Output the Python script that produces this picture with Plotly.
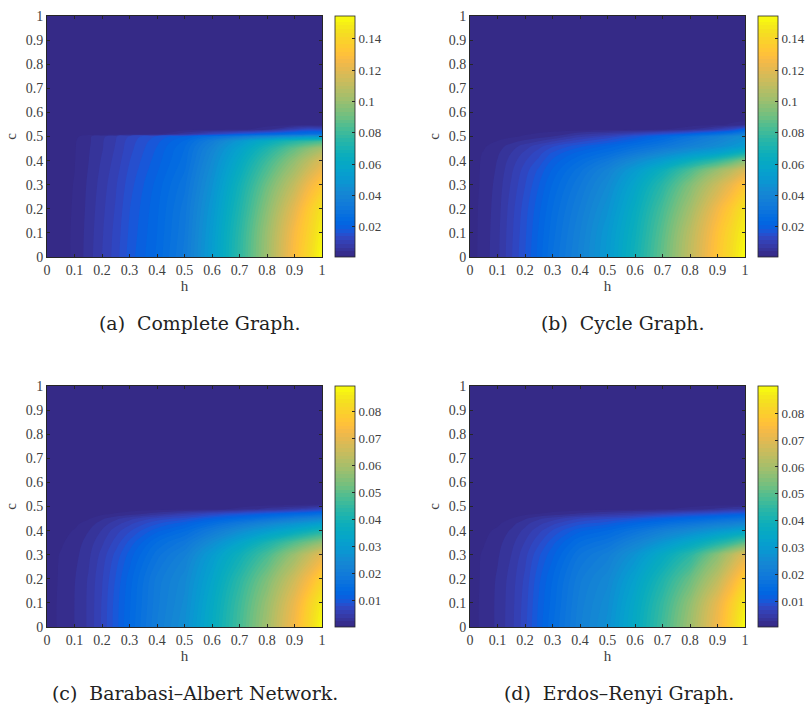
import numpy as np
import plotly.graph_objects as go

# Shared axis tick labels
tick_vals = [0, .1, .2, .3, .4, .5, .6, .7, .8, .9, 1]
tick_text = ["0", "0.1", "0.2", "0.3", "0.4", "0.5", "0.6", "0.7", "0.8", "0.9", "1"]

h_grid = [0, .05, .1, .15, .2, .25, .3, .4, .5, .6, .7, .8, .9, .95, 1]

c_a = [0, .1, .2, .3, .4, .45, .48, .5, .51, .53, .55, .6, 1]
z_a = [
    [.7, 1.2, 2.2, 5.5, 9.1, 12.7, 17.4, 24, 34, 53, 76, 101, 129, 141, 154.5],
    [.7, 1.2, 2.2, 5.3, 8.8, 12.4, 16.8, 23.5, 33, 52, 75, 100, 127, 138, 151],
    [.7, 1.2, 2.1, 5.0, 8.4, 11.8, 16.2, 23, 32, 50, 72, 96, 121, 134, 146],
    [.7, 1.1, 2.0, 4.7, 7.8, 11.2, 15.2, 22, 30, 47, 68, 90, 111, 124, 134],
    [.7, 1.0, 1.8, 4.2, 7.0, 10, 13.8, 20, 27, 43, 61, 80, 98, 108, 118],
    [.7, 1.0, 1.7, 4.0, 6.5, 9.4, 13, 19, 26, 40, 56, 72, 88, 96, 103],
    [.7, 1.0, 1.6, 3.8, 6.4, 9.1, 12.6, 18, 24, 36, 50, 63, 74, 78, 82],
    [.7, .8, 1.0, 3.8, 6, 8.8, 12, 17, 21, 28, 34, 40, 45, 48, 50],
    [.7, .7, .7, .7, .7, .7, .7, 1.2, 6, 12, 18, 22, 26, 28, 30],
    [.7, .7, .7, .7, .7, .7, .7, .7, .7, .7, 1.0, 3.5, 10, 13, 12],
    [.7, .7, .7, .7, .7, .7, .7, .7, .7, .7, .7, .7, .7, .7, .7],
    [.7, .7, .7, .7, .7, .7, .7, .7, .7, .7, .7, .7, .7, .7, .7],
    [.7, .7, .7, .7, .7, .7, .7, .7, .7, .7, .7, .7, .7, .7, .7],
]

c_b = [0, .1, .2, .3, .36, .4, .43, .46, .5, .53, .55, .58, .6, 1]
z_b = [
    [.7, 3.0, 6, 11.2, 16.3, 22, 28.4, 39, 51, 68, 88, 110, 133, 143, 154.5],
    [.7, 2.9, 5.9, 10.9, 15.8, 21.5, 27.3, 38, 50, 66, 86, 108, 131, 141, 151],
    [.7, 2.8, 5.6, 10.4, 15.2, 20.4, 26, 36, 47, 63, 82, 102, 125, 135, 146],
    [.7, 2.5, 5.2, 9.4, 13.8, 18.6, 23.8, 33, 43, 58, 75, 94, 113, 123, 133],
    [.7, 2.4, 4.7, 8.6, 12.7, 16.9, 21.5, 30, 39, 52, 66, 83, 100, 108, 118],
    [.7, 2.3, 4.4, 7.7, 11.2, 14.6, 19.2, 26, 33, 43, 53, 65, 77, 85, 95],
    [.7, 2.1, 3.9, 6.8, 9.8, 12.9, 16.9, 22.5, 27, 34, 42, 50, 57, 63, 70],
    [.7, 1.6, 3.1, 5.4, 7.9, 10.6, 13.5, 18, 22, 27, 32, 38, 44, 48, 52],
    [.7, .7, 1.0, 1.5, 2.2, 3.1, 4.3, 8.5, 12, 17, 23, 30, 37, 41, 45],
    [.7, .7, .7, .7, .7, .7, .7, .7, .7, .9, 1.7, 3.7, 8.7, 12.7, 20.7],
    [.7, .7, .7, .7, .7, .7, .7, .7, .7, .7, .7, .7, 1.4, 2.2, 2.7],
    [.7, .7, .7, .7, .7, .7, .7, .7, .7, .7, .7, .7, .7, .7, 1.0],
    [.7, .7, .7, .7, .7, .7, .7, .7, .7, .7, .7, .7, .7, .7, .7],
    [.7, .7, .7, .7, .7, .7, .7, .7, .7, .7, .7, .7, .7, .7, .7],
]

c_c = [0, .1, .2, .3, .35, .4, .43, .45, .47, .49, .51, .53, 1]
z_c = [
    [.2, 1.2, 2.3, 3.9, 6.7, 10, 13.5, 20.5, 26, 36, 47, 59, 73, 81, 89.4],
    [.2, 1.2, 2.3, 3.9, 6.6, 9.9, 13.2, 20, 25, 35, 46, 57.5, 71, 79, 86.5],
    [.2, 1.1, 2.2, 3.8, 6.3, 9.4, 12.7, 19.5, 24, 33, 43.5, 54, 66, 73, 80],
    [.2, 1.0, 1.8, 3.3, 5.6, 8.3, 11.2, 17, 21.5, 30, 38.5, 47.5, 58, 64, 70],
    [.2, .7, 1.5, 2.9, 4.8, 7.1, 9.7, 15, 18.5, 25.5, 33, 41, 49, 53, 57],
    [.2, .4, 1.0, 2.2, 3.8, 5.8, 7.6, 11.5, 14.5, 19.5, 25, 30, 35, 38, 41],
    [.2, .2, .5, 1.5, 2.9, 4.4, 6, 9, 11.5, 15, 19, 23, 27, 29, 31],
    [.2, .2, .3, .7, 2, 3.3, 4.5, 7, 8.5, 11.5, 14, 17, 20, 21.5, 23],
    [.2, .2, .2, .2, .5, 1.0, 1.5, 3, 5, 7, 9, 11, 13, 14, 15],
    [.2, .2, .2, .2, .2, .2, .2, .25, .3, .5, 1.2, 2.7, 4.2, 5.2, 6.7],
    [.2, .2, .2, .2, .2, .2, .2, .2, .2, .2, .2, .2, .2, .4, .7],
    [.2, .2, .2, .2, .2, .2, .2, .2, .2, .2, .2, .2, .2, .2, .2],
    [.2, .2, .2, .2, .2, .2, .2, .2, .2, .2, .2, .2, .2, .2, .2],
]

c_d = [0, .1, .2, .3, .35, .4, .43, .45, .47, .49, .51, 1]
z_d = [
    [.5, 1.6, 2.9, 4.9, 7.7, 11.5, 15, 22, 27, 36, 47, 59, 73, 81, 90.1],
    [.5, 1.6, 2.9, 4.8, 7.5, 11.2, 14.4, 21.5, 26, 35, 45.5, 57, 71, 79, 87],
    [.5, 1.5, 2.8, 4.6, 7.1, 10.6, 13.8, 20.5, 24.5, 32.5, 42, 52, 64, 72, 80],
    [.5, 1.4, 2.4, 4, 6.3, 9.3, 12, 18, 21.5, 28, 36, 44, 56, 63, 70],
    [.5, 1.1, 2.1, 3.5, 5.5, 7.9, 10.5, 15.5, 18, 23, 29, 35, 42, 46, 51],
    [.5, .8, 1.5, 2.8, 4.4, 6.3, 8.3, 12, 14, 17.5, 21.5, 25, 29, 31, 33],
    [.5, .6, .9, 2, 3.5, 4.9, 6.3, 9, 10.5, 13, 15.5, 18, 21, 22, 24],
    [.5, .5, .7, 1.2, 2.4, 3.7, 4.7, 6.8, 8, 9.5, 11.5, 13.5, 15.5, 16.5, 17.5],
    [.5, .5, .5, .5, .8, 1.2, 1.6, 2.8, 4, 5, 6.5, 8, 9.5, 10.5, 11.5],
    [.5, .5, .5, .5, .5, .5, .5, .5, .55, .7, 1, 1.7, 3, 3.7, 4.5],
    [.5, .5, .5, .5, .5, .5, .5, .5, .5, .5, .5, .5, .5, .5, .5],
    [.5, .5, .5, .5, .5, .5, .5, .5, .5, .5, .5, .5, .5, .5, .5],
]

cbar_vals_top = [.02, .04, .06, .08, .1, .12, .14]
cbar_text_top = ["0.02", "0.04", "0.06", "0.08", "0.1", "0.12", "0.14"]
cbar_vals_bottom = [.01, .02, .03, .04, .05, .06, .07, .08]
cbar_text_bottom = ["0.01", "0.02", "0.03", "0.04", "0.05", "0.06", "0.07", "0.08"]

captions = ["(a)  Complete Graph.", "(b)  Cycle Graph.",
            "(c)  Barabasi–Albert Network.", "(d)  Erdos–Renyi Graph."]
caption_cx = [200, 622, 195, 619]
caption_cy = [323, 323, 693, 693]

parula = [
 (.2081,.1663,.5292),(.2116,.1898,.5777),(.2123,.2138,.6270),(.2081,.2386,.6771),
 (.1959,.2645,.7279),(.1707,.2919,.7792),(.1253,.3242,.8303),(.0591,.3598,.8683),
 (.0117,.3875,.8820),(.0060,.4086,.8828),(.0165,.4266,.8786),(.0329,.4430,.8720),
 (.0498,.4586,.8641),(.0629,.4737,.8554),(.0723,.4887,.8467),(.0779,.5040,.8384),
 (.0793,.5200,.8312),(.0749,.5375,.8263),(.0641,.5570,.8240),(.0488,.5772,.8228),
 (.0343,.5966,.8199),(.0265,.6137,.8135),(.0239,.6287,.8038),(.0231,.6418,.7913),
 (.0228,.6535,.7768),(.0267,.6642,.7607),(.0384,.6743,.7436),(.0590,.6838,.7254),
 (.0843,.6928,.7062),(.1133,.7015,.6859),(.1453,.7098,.6646),(.1801,.7177,.6424),
 (.2178,.7250,.6193),(.2586,.7317,.5954),(.3022,.7376,.5712),(.3482,.7424,.5473),
 (.3953,.7459,.5244),(.4420,.7481,.5033),(.4871,.7491,.4840),(.5300,.7491,.4661),
 (.5709,.7485,.4494),(.6099,.7473,.4337),(.6473,.7456,.4188),(.6834,.7435,.4044),
 (.7184,.7411,.3905),(.7525,.7384,.3768),(.7858,.7356,.3633),(.8185,.7327,.3498),
 (.8507,.7299,.3360),(.8824,.7274,.3217),(.9139,.7258,.3063),(.9450,.7261,.2886),
 (.9739,.7314,.2666),(.9938,.7455,.2403),(.9990,.7653,.2164),(.9955,.7861,.1967),
 (.9880,.8066,.1794),(.9789,.8271,.1633),(.9697,.8481,.1475),(.9626,.8705,.1309),
 (.9589,.8949,.1132),(.9598,.9218,.0948),(.9661,.9514,.0755),(.9763,.9831,.0538),
]
def rgb(t):
    return "rgb(%d,%d,%d)" % tuple(round(v * 255) for v in t)
colorscale = [[i / 63, rgb(p)] for i, p in enumerate(parula)]

W, H = 807, 704
FONT = "Liberation Serif"
INK = "#404040"
panels = [
    (47, 322, 16, 257, 334.5, c_a, z_a, .0007, .1545, cbar_vals_top, cbar_text_top),
    (470, 745, 16, 257, 757.7, c_b, z_b, .0007, .1545, cbar_vals_top, cbar_text_top),
    (47, 322, 386, 627, 334.5, c_c, z_c, .0002, .0894, cbar_vals_bottom, cbar_text_bottom),
    (470, 745, 386, 627, 757.7, c_d, z_d, .0005, .0901, cbar_vals_bottom, cbar_text_bottom),
]

fig = go.Figure()
layout = dict(
    width=W, height=H, margin=dict(l=0, r=0, t=0, b=0, autoexpand=False), autosize=False,
    paper_bgcolor="white", plot_bgcolor="#352a87", showlegend=False,
    font=dict(family=FONT, size=13, color=INK),
)
annotations = []
for i, (x0, x1, yt, yb, cx, cs, z, zmin, zmax, cv, ct) in enumerate(panels):
    sfx = "" if i == 0 else str(i + 1)
    step = (zmax - zmin) / 64
    fig.add_trace(go.Contour(
        x=h_grid, y=cs, z=np.array(z) / 1000, xaxis="x" + sfx, yaxis="y" + sfx,
        zmin=zmin, zmax=zmax, colorscale=colorscale, autocontour=False,
        contours=dict(start=zmin + step / 2, end=zmax, size=step, coloring="fill", showlines=False),
        line=dict(width=0), hoverinfo="skip",
        colorbar=dict(
            x=cx / W, xanchor="left", thickness=20, thicknessmode="pixels",
            y=1 - (yt + yb) / 2 / H, yanchor="middle", len=(yb - yt) / H, lenmode="fraction",
            xpad=0, ypad=0, outlinecolor="#262626", outlinewidth=0.8,
            tickmode="array", tickvals=cv, ticktext=ct, ticks="inside", ticklen=3,
            tickwidth=0.7, tickcolor="#262626",
            tickfont=dict(family=FONT, size=13, color=INK),
        ),
    ))
    common = dict(
        range=[0, 1], tickmode="array", tickvals=tick_vals, ticktext=tick_text,
        ticks="inside", ticklen=3, tickwidth=0.7, tickcolor="#262626",
        showline=True, linecolor="#262626", linewidth=0.8, mirror="ticks",
        showgrid=False, zeroline=False, tickfont=dict(family=FONT, size=14, color=INK),
    )
    layout["xaxis" + sfx] = dict(common, domain=[x0 / W, x1 / W], anchor="y" + sfx,
                                 title=dict(text="h", font=dict(family=FONT, size=15, color=INK), standoff=3))
    layout["yaxis" + sfx] = dict(common, domain=[1 - yb / H, 1 - yt / H], anchor="x" + sfx,
                                 title=dict(text="c", font=dict(family=FONT, size=15, color=INK), standoff=5))
    annotations.append(dict(
        text=captions[i], xref="paper", yref="paper", x=caption_cx[i] / W, y=1 - caption_cy[i] / H,
        xanchor="center", yanchor="middle", showarrow=False,
        font=dict(family="DejaVu Serif", size=18.9, color="#222222"),
    ))
layout["annotations"] = annotations
fig.update_layout(**layout)
fig.write_html("out.html", config={"displayModeBar": False}, post_script="document.body.style.margin='0';")
